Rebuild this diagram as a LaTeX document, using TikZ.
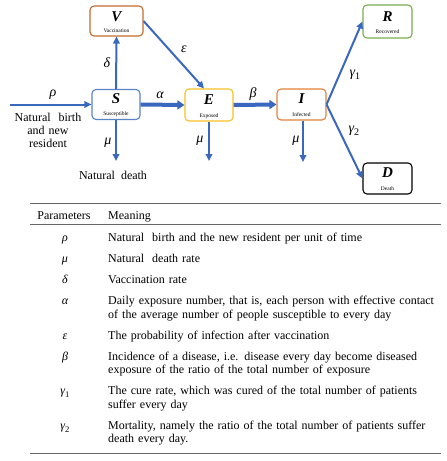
\documentclass[tikz,border=0pt]{standalone}
\usepackage{fontspec}
\setmainfont{Liberation Serif}
\usetikzlibrary{arrows.meta}
\definecolor{flowblue}{HTML}{3A68BF}
\definecolor{vcol}{HTML}{C46A2E}
\definecolor{scol}{HTML}{5A82C6}
\definecolor{ecol}{HTML}{F5C225}
\definecolor{icol}{HTML}{E5813A}
\definecolor{rcol}{HTML}{78AC52}
\definecolor{rulecol}{HTML}{666666}
\newcommand{\gsub}[2]{{\itshape #1}\raisebox{-0.25em}{\upshape\fontsize{0.72em}{0.72em}\selectfont #2}}
\newcommand{\jstpar}{\leftskip=0pt\relax\rightskip=0pt\relax\parfillskip=0pt plus 1fil\relax\hyphenpenalty=10000\relax}
\begin{document}
\begin{tikzpicture}[x=1pt,y=-1pt,
  box/.style={draw, rounded corners=4pt, line width=1.1pt, fill=white, inner sep=0pt},
  flow/.style={draw=flowblue, line width=2pt, -{Triangle[length=7pt,width=6.5pt]}},
  thickflow/.style={draw=flowblue, line width=4pt, -{Triangle[length=7pt,width=9pt]}},
  glab/.style={font=\fontsize{14}{14}\selectfont\itshape, inner sep=0pt},
  big/.style={font=\fontsize{15}{15}\selectfont\bfseries\itshape, inner sep=0pt},
  small/.style={font=\fontsize{5.5}{6}\selectfont, inner sep=0pt},
  plain/.style={font=\fontsize{12}{13}\selectfont, inner sep=0pt},
  tabrule/.style={draw=rulecol, line width=1pt},
  cell/.style={font=\fontsize{12}{13.5}\selectfont, inner sep=0pt, anchor=base west, text width=328pt, execute at begin node=\jstpar},
  sym/.style={font=\fontsize{12}{13.5}\selectfont, inner sep=0pt, anchor=base},
  gsym/.style={sym, font=\fontsize{12}{13.5}\selectfont\itshape},
]
\useasboundingbox (0,0) rectangle (447,461);

% boxes
\node[box, draw=vcol, minimum width=53pt, minimum height=30pt] (V) at (116.5,21) {};
\node[big] (Vl) at (116.5,17) {V};
\node[small] (Vs) at (116.5,31) {Vaccination};

\node[box, draw=scol, minimum width=48pt, minimum height=30pt] (S) at (116,104.5) {};
\node[big] (Sl) at (116,99) {S};
\node[small] (Ss) at (116,114.5) {Susceptible};

\node[box, draw=ecol, minimum width=48pt, minimum height=32pt] (E) at (209,105) {};
\node[big] (El) at (209,100) {E};
\node[small] (Es) at (209,116) {Exposed};

\node[box, draw=icol, minimum width=49pt, minimum height=31pt] (I) at (301.5,104.5) {};
\node[big] (Il) at (301.5,99) {I};
\node[small] (Is) at (301.5,115) {Infected};

\node[box, draw=rcol, minimum width=49pt, minimum height=33pt] (R) at (387.5,21.5) {};
\node[big] (Rl) at (387.5,17) {R};
\node[small] (Rs) at (387.5,32) {Recovered};

\node[box, draw=black, minimum width=49pt, minimum height=31pt] (D) at (387.5,178.5) {};
\node[big] (Dl) at (387.5,173) {D};
\node[small] (Ds) at (387.5,188.5) {Death};

% free ends
\coordinate (rho0) at (10,104.5);
\coordinate (Sd) at (116,161);
\coordinate (Ed) at (209,161);
\coordinate (Id) at (303,162);

% connectors
\draw[flow] (rho0) -- (S.west);
\draw[flow] (S.north) -- (V.south);
\draw[flow] (S.south) -- (Sd);
\draw[thickflow] (S.east) -- (E.west);
\draw[flow] (V.east) -- ([xshift=-5pt]E.north);
\draw[flow] (E.south) -- (Ed);
\draw[thickflow] (E.east) -- (I.west);
\draw[flow] ([xshift=1.5pt]I.south) -- (Id);
\draw[flow] (I.east) -- (R.west);
\draw[flow] (I.east) -- (D.west);

% labels
\node[glab] (lrho) at (53,95) {ρ};
\node[glab] (ldelta) at (107,63) {δ};
\node[glab] (lalpha) at (160,95) {α};
\node[glab] (leps) at (184,49) {ε};
\node[glab] (lmuS) at (108,143) {μ};
\node[glab] (lmuE) at (200,141) {μ};
\node[glab] (lbeta) at (253,94) {β};
\node[glab] (lmuI) at (296,141) {μ};
\node[glab] (lg1) at (355,75) {\gsub{γ}{1}};
\node[glab] (lg2) at (354,131) {\gsub{γ}{2}};

\node[plain, text width=90pt, align=center, anchor=base] (birth) at (48,121) {Natural\ \ birth\\and new\\resident};
\node[plain, anchor=base] (ndeath) at (113,179) {Natural\ \ death};

% table
\draw[tabrule] (30,203) -- (441,203);
\draw[tabrule] (30,224) -- (441,224);
\draw[tabrule] (30,453) -- (441,453);

\node[sym] (hpar) at (64,219) {Parameters};
\node[cell] (hmean) at (108,219) {Meaning};

\node[gsym] (s1) at (65,241.5) {ρ};
\node[cell] (t1) at (108,241.5) {Natural\ \ birth and the new resident per unit of time};
\node[gsym] (s2) at (65,262.5) {μ};
\node[cell] (t2) at (108,262.5) {Natural\ \ death rate};
\node[gsym] (s3) at (65,283.5) {δ};
\node[cell] (t3) at (108,283.5) {Vaccination rate};
\node[gsym] (s4) at (65,304.5) {α};
\node[cell] (t4) at (108,304.5) {Daily exposure number, that is, each person with effective contact\linebreak of the average number of people susceptible to every day};
\node[gsym] (s5) at (65,339) {ε};
\node[cell] (t5) at (108,339) {The probability of infection after vaccination};
\node[gsym] (s6) at (65,360) {β};
\node[cell] (t6) at (108,360) {Incidence of a disease, i.e. disease every day become diseased\linebreak exposure of the ratio of the total number of exposure};
\node[gsym] (s7) at (65,394.5) {\gsub{γ}{1}};
\node[cell] (t7) at (108,394.5) {The cure rate, which was cured of the total number of patients\linebreak suffer every day};
\node[gsym] (s8) at (65,429) {\gsub{γ}{2}};
\node[cell] (t8) at (108,429) {Mortality, namely the ratio of the total number of patients suffer\linebreak death every day.};
\end{tikzpicture}
\end{document}
